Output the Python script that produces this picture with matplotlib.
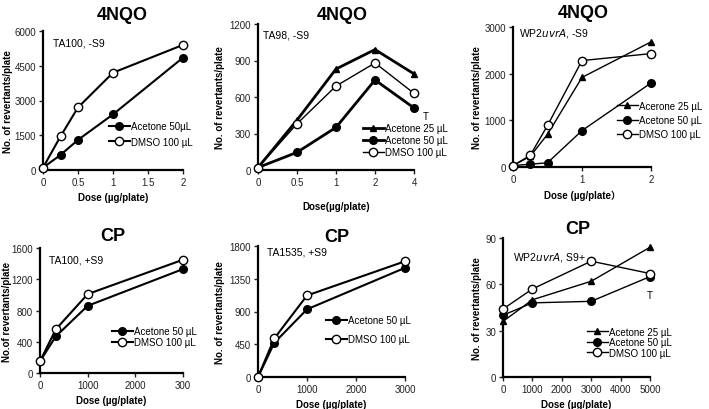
import numpy as np
import matplotlib
matplotlib.use('Agg')
import matplotlib.pyplot as plt

plt.rcParams['font.family'] = ['Liberation Sans', 'DejaVu Sans', 'Noto Sans CJK JP']
plt.rcParams['font.size'] = 7

# ---- data ----
# 4NQO, TA100 -S9
dose_ta100 = [0, 0.25, 0.5, 1, 2]
ta100_ace50 = [100, 650, 1300, 2400, 4850]
ta100_dmso = [100, 1450, 2700, 4200, 5400]

# 4NQO, TA98 -S9 (category axis)
dose_ta98 = ['0', '0.5', '1', '2', '4']
ta98_ace25 = [20, 410, 830, 990, 790]
ta98_ace50 = [20, 145, 350, 740, 510]
ta98_dmso = [20, 380, 690, 880, 630]

# 4NQO, WP2uvrA -S9
dose_wp2 = [0, 0.25, 0.5, 1, 2]
wp2_ace25 = [30, 230, 700, 1920, 2680]
wp2_ace50 = [30, 60, 90, 780, 1800]
wp2_dmso = [30, 250, 890, 2280, 2430]

# CP, TA100 +S9
dose_cp = [0, 333, 1000, 3000]
cp100_ace50 = [150, 470, 860, 1330]
cp100_dmso = [150, 560, 1010, 1450]

# CP, TA1535 +S9
cp1535_ace50 = [0, 470, 930, 1500]
cp1535_dmso = [0, 530, 1120, 1590]

# CP, WP2uvrA S9+
dose_cpwp = [0, 1000, 3000, 5000]
cpwp_ace25 = [36, 50, 62, 84]
cpwp_ace50 = [40, 48, 49, 65]
cpwp_dmso = [44, 57, 75, 67]

W, H = 709, 410
fig = plt.figure(figsize=(W / 100, H / 100), dpi=100)


def make_ax(x0, x1, y0, y1):
    # pixel box -> figure fraction
    ax = fig.add_axes([x0 / W, 1 - y1 / H, (x1 - x0) / W, (y1 - y0) / H])
    ax.box_px = (x0, x1, y0, y1)
    return ax


def style(ax):
    for s in ['top', 'right']:
        ax.spines[s].set_visible(False)
    ax.spines['left'].set_linewidth(1.6)
    ax.spines['bottom'].set_linewidth(1.6)
    ax.tick_params(direction='out', length=3, width=1, labelsize=7, colors='#222222', pad=2)


def ace25(ax, x, y, lw=1.5, label='Acetone 25 µL'):
    ax.plot(x, y, '-^', color='black', lw=lw, ms=5, mfc='black', mec='black', label=label, clip_on=False, zorder=3)


def ace50(ax, x, y, lw=1.5, label='Acetone 50 µL'):
    ax.plot(x, y, '-o', color='black', lw=lw, ms=5.5, mfc='black', mec='black', label=label, clip_on=False, zorder=3)


def dmso(ax, x, y, lw=1.5):
    ax.plot(x, y, '-o', color='black', lw=lw, ms=6, mfc='white', mec='black', mew=1, label='DMSO 100 µL', clip_on=False, zorder=4)


def legend(ax, x, y, spacing=0.4):
    ax.legend(loc='center left', bbox_to_anchor=(x, y), frameon=False, fontsize=7,
              handlelength=2.2, handletextpad=0.1, borderpad=0, borderaxespad=0,
              labelspacing=spacing, markerscale=1)


def labels(ax, title, tpos, xlabel, ylabel, ylab_x):
    fig.text(tpos[0] / W, 1 - tpos[1] / H, title, fontsize=13, fontweight='bold', ha='center', va='center')
    ax.set_xlabel(xlabel, fontsize=7, fontweight='bold', labelpad=4)
    ax.set_ylabel(ylabel, fontsize=7, fontweight='bold')
    x0, x1, y0, y1 = ax.box_px
    ax.yaxis.set_label_coords((ylab_x - x0) / (x1 - x0), 0.5)
    ax.yaxis.label.set_va('center')


# ---- panel 1 ----
ax = make_ax(43, 183, 32, 171)
style(ax)
ace50(ax, dose_ta100, ta100_ace50, label='Acetone 50µL')
dmso(ax, dose_ta100, ta100_dmso)
ax.set_xlim(0, 2)
ax.set_ylim(0, 6000)
ax.set_xticks([0, 0.5, 1, 1.5, 2])
ax.set_xticklabels(['0', '0.5', '1', '1.5', '2'])
ax.set_yticks([0, 1500, 3000, 4500, 6000])
labels(ax, '4NQO', (122, 16), 'Dose (µg/plate)', 'No. of revertants/plate', 8)
ax.text(0.07, 0.92, 'TA100, -S9', transform=ax.transAxes, ha='left', va='center', fontsize=7.5)
legend(ax, 0.47, 0.26, spacing=0.6)

# ---- panel 2 ----
ax = make_ax(258, 414, 25, 171)
style(ax)
xi = np.arange(len(dose_ta98))
ace25(ax, xi, ta98_ace25, lw=2)
ace50(ax, xi, ta98_ace50, lw=2)
dmso(ax, xi, ta98_dmso, lw=1)
ax.set_xlim(0, 4)
ax.set_ylim(0, 1200)
ax.set_xticks(xi)
ax.set_xticklabels(dose_ta98)
ax.set_yticks([0, 300, 600, 900, 1200])
labels(ax, '4NQO', (342, 15), 'Dose(µg/plate)', 'No. of revertants/plate', 220)
ax.xaxis.labelpad = 10
ax.text(0.03, 0.93, 'TA98, -S9', transform=ax.transAxes, ha='left', va='center', fontsize=7.5)
ax.text(4.3, 440, 'T', ha='center', va='center', fontsize=7)
legend(ax, 0.67, 0.205, spacing=0.2)

# ---- panel 3 ----
ax = make_ax(513, 651, 28, 168)
style(ax)
ace25(ax, dose_wp2, wp2_ace25, lw=1, label='Acerone 25 µL')
ace50(ax, dose_wp2, wp2_ace50, lw=1)
dmso(ax, dose_wp2, wp2_dmso, lw=1)
ax.set_xlim(0, 2)
ax.set_ylim(0, 3000)
ax.set_xticks([0, 1, 2])
ax.set_yticks([0, 1000, 2000, 3000])
labels(ax, '4NQO', (583, 13), 'Dose (µg/plate\uff09', 'No. of revertants/plate', 477)
ax.text(0.04, 0.96, 'WP2$\\it{uvrA}$, -S9', transform=ax.transAxes, ha='left', va='center', fontsize=7.5)
legend(ax, 0.75, 0.336, spacing=0.45)

# ---- panel 4 ----
ax = make_ax(40, 183, 249, 374)
style(ax)
ace50(ax, dose_cp, cp100_ace50)
dmso(ax, dose_cp, cp100_dmso)
ax.set_xlim(0, 3000)
ax.set_ylim(0, 1600)
ax.set_xticks([0, 1000, 2000, 3000])
ax.set_xticklabels(['0', '1000', '2000', '300'])
ax.set_yticks([0, 400, 800, 1200, 1600])
labels(ax, 'CP', (113, 237), 'Dose (µg/plate)', 'No.of revertants/plate', 7)
ax.text(0.06, 0.91, 'TA100, +S9', transform=ax.transAxes, ha='left', va='center', fontsize=7.5)
legend(ax, 0.5, 0.29, spacing=0.15)

# ---- panel 5 ----
ax = make_ax(258, 405, 247, 378)
style(ax)
ace50(ax, dose_cp, cp1535_ace50)
dmso(ax, dose_cp, cp1535_dmso)
ax.set_xlim(0, 3000)
ax.set_ylim(0, 1800)
ax.set_xticks([0, 1000, 2000, 3000])
ax.set_yticks([0, 450, 900, 1350, 1800])
labels(ax, 'CP', (337, 238), 'Dose (µg/plate)', 'No. of revertants/plate', 220)
ax.text(0.06, 0.96, 'TA1535, +S9', transform=ax.transAxes, ha='left', va='center', fontsize=7.5)
legend(ax, 0.46, 0.36, spacing=0.9)

# ---- panel 6 ----
ax = make_ax(503, 650, 239, 378)
style(ax)
ace25(ax, dose_cpwp, cpwp_ace25, lw=1)
ace50(ax, dose_cpwp, cpwp_ace50, lw=1)
dmso(ax, dose_cpwp, cpwp_dmso, lw=1)
ax.set_xlim(0, 5000)
ax.set_ylim(0, 90)
ax.set_xticks([0, 1000, 2000, 3000, 4000, 5000])
ax.set_yticks([0, 30, 60, 90])
labels(ax, 'CP', (578, 230), 'Dose (µg/plate)', 'No. of revertants/plate', 477)
ax.text(0.07, 0.87, 'WP2$\\it{uvrA}$, S9+', transform=ax.transAxes, ha='left', va='center', fontsize=7.5)
ax.text(5000, 53, 'T', ha='center', va='center', fontsize=7)
legend(ax, 0.57, 0.25, spacing=0.05)

fig.savefig('out.png', dpi=100)
